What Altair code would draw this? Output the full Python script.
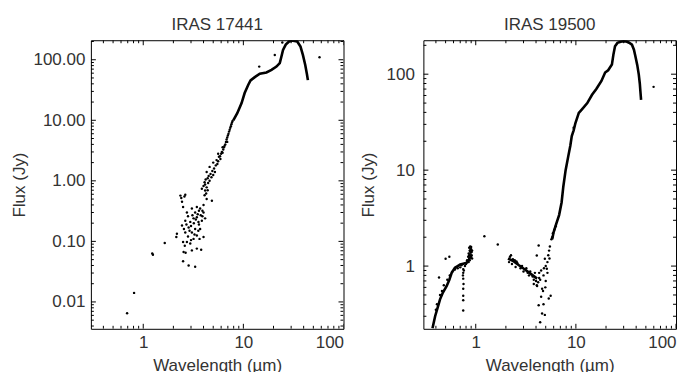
import altair as alt
import pandas as pd

# ---------------- IRAS 17441 ----------------
# dense, continuous part of the spectrum
l_curve_wl = [7.93, 8.69, 9.6, 10.3, 11.2, 11.8, 13.0, 14.6, 17.0, 19.1, 21.4, 23.1, 24.0,
              24.9, 26.5, 28.6, 31.3, 34.5, 37.2, 39.3, 41.5, 43.1, 44.1]
l_curve_fx = [10.0, 13.1, 19.2, 28.2, 38.6, 45.5, 51.6, 58.6, 61.6, 68, 77, 88, 113,
              145, 178, 200, 207, 200, 165, 120, 82, 58, 46]
# individual points
l_pts_wl = [0.69, 0.81, 1.23, 1.25, 1.64, 2.14, 2.17,
            2.35, 2.63, 2.44, 2.5, 2.44, 2.5, 2.53, 2.5, 2.84, 3.3, 3.43, 3.79, 4.0, 3.65,
            2.73, 3.06, 3.43, 3.7, 4.0, 4.15, 4.3, 4.85, 4.15, 3.85, 2.95, 3.18, 3.3, 3.06,
            2.84, 2.73, 2.95, 3.18, 3.56, 3.85, 3.7, 3.43, 2.63, 2.63, 3.43, 3.06,
            2.4, 2.58, 2.7, 2.8, 2.9, 3.0, 3.1, 3.2, 3.25, 3.35, 3.5, 3.6, 3.75, 3.9, 4.0,
            4.1, 4.25, 4.4, 2.6, 2.8, 3.55, 2.55, 2.65, 3.9, 3.0, 3.6, 3.3,
            4.0, 4.1, 4.15, 4.2, 4.3, 4.4, 4.45, 4.5, 4.6, 4.7, 4.8, 4.9, 5.0, 5.1, 5.2,
            5.3, 5.4, 5.5, 5.6, 5.7, 5.85, 5.9, 6.0, 6.1, 6.2, 6.3, 6.4, 6.5, 6.6, 6.7,
            6.8, 6.9, 7.0, 7.1, 7.2, 7.3, 7.4, 7.5, 7.6, 7.7, 7.8,
            4.3, 4.6, 5.0, 5.6, 6.2, 6.9,
            14.4, 20.6, 24.5, 57.6]
l_pts_fx = [0.0065, 0.0141, 0.063, 0.06, 0.094, 0.118, 0.134,
            0.57, 0.59, 0.45, 0.37, 0.183, 0.098, 0.067, 0.047, 0.04, 0.038, 0.076, 0.073, 0.118, 0.11,
            0.30, 0.35, 0.37, 0.35, 0.30, 0.24, 0.50, 0.47, 0.69, 0.74, 0.21, 0.24, 0.16, 0.14,
            0.17, 0.098, 0.092, 0.11, 0.21, 0.22, 0.16, 0.25, 0.22, 0.14, 0.125, 0.071,
            0.52, 0.55, 0.19, 0.26, 0.15, 0.18, 0.27, 0.2, 0.13, 0.23, 0.28, 0.19, 0.27, 0.32, 0.4,
            0.58, 0.62, 0.7, 0.085, 0.12, 0.15, 0.16, 0.065, 0.26, 0.105, 0.32, 0.3,
            0.82, 0.95, 0.87, 1.05, 0.78, 1.1, 0.92, 1.2, 1.0, 1.3, 1.15, 1.45, 1.25, 1.6, 1.4,
            1.8, 2.2, 1.9, 2.1, 2.5, 2.55, 2.3, 2.8, 3.0, 2.9, 3.3, 3.6, 3.8, 4.0, 4.4,
            4.8, 5.2, 5.6, 6.0, 6.5, 7.0, 7.5, 8.0, 8.6, 9.2, 9.7,
            1.4, 1.7, 2.0, 2.8, 3.6, 4.4,
            77, 120, 193, 110]

# ---------------- IRAS 19500 ----------------
r_opt_wl = [0.37, 0.393, 0.42, 0.44, 0.47, 0.513, 0.545, 0.575, 0.62, 0.66, 0.70, 0.75, 0.81, 0.85, 0.9]
r_opt_fx = [0.225, 0.30, 0.38, 0.45, 0.53, 0.62, 0.72, 0.85, 0.96, 1.0, 1.04, 1.06, 1.08, 1.15, 1.3]
r_band_wl = [2.1, 2.4, 2.7, 3.1, 3.6, 4.1]
r_band_fx = [1.2, 1.12, 1.02, 0.92, 0.82, 0.74]
r_curve_wl = [5.8, 6.0, 6.4, 6.8, 7.2, 7.5, 7.9, 8.4, 8.8, 9.1, 9.5, 9.9, 10.3, 10.7, 11.5, 13.0,
              14.5, 16.0, 18.0, 19.6, 21.0, 22.9, 23.7, 24.6, 26.0, 28.0, 29.9, 32.0, 34.0,
              36.3, 38.0, 39.3, 41.0, 42.5, 43.5, 44.1, 44.8]
r_curve_fx = [1.9, 2.26, 2.8, 3.4, 4.6, 6.8, 10.0, 14, 18, 22.6, 26, 31, 35, 39.5, 43, 50,
              61, 70, 85, 104, 110, 126, 160, 196, 212, 218, 221, 219, 213,
              203, 180, 154, 125, 99, 80, 66, 54]
r_pts_wl = [0.43, 0.50, 0.545, 1.22, 1.66,
            0.75, 0.75, 0.75, 0.755, 0.75, 0.75, 0.75, 0.75, 0.745, 0.76,
            0.86, 0.88, 0.9, 0.87, 0.89, 0.91, 0.85, 0.88, 0.9, 0.86, 0.92, 0.89, 0.87, 0.91,
            0.84, 0.9, 0.88, 0.86, 0.92, 0.83, 0.8, 0.78, 0.82, 0.85,
            0.4, 0.41, 0.44, 0.46, 0.48, 0.52, 0.55, 0.58, 0.62, 0.66, 0.7, 0.72,
            2.15, 2.2, 2.3, 2.35, 2.5, 2.55, 2.6, 2.8, 2.9, 3.0, 3.2, 3.3, 3.4, 3.5, 3.7,
            3.8, 3.9, 4.0, 4.2, 4.3, 4.1, 2.25, 2.45,
            4.25, 4.07, 4.9, 5.13, 4.75, 5.6, 5.36, 4.6, 4.25, 4.75, 4.6, 4.9, 4.4, 4.07, 3.8,
            5.0, 5.2, 5.3, 5.4, 5.5, 5.7, 5.8, 5.9, 6.1, 6.3, 5.45, 5.2, 4.8, 5.0, 4.5, 4.4,
            4.7, 4.95, 4.3, 4.5,
            9.5, 59.7]
r_pts_fx = [0.76, 1.19, 1.25, 2.05, 1.68,
            0.93, 0.85, 0.74, 0.65, 0.58, 0.49, 0.44, 0.345, 0.8, 0.9,
            1.55, 1.6, 1.58, 1.45, 1.5, 1.4, 1.35, 1.3, 1.25, 1.2, 1.45, 1.38, 1.15, 1.3,
            1.25, 1.5, 1.42, 1.3, 1.2, 1.1, 1.05, 1.0, 1.15, 1.1,
            0.35, 0.4, 0.5, 0.55, 0.63, 0.72, 0.8, 0.87, 0.92, 0.95, 0.97, 1.02,
            1.1, 1.25, 1.05, 1.18, 0.98, 1.12, 1.08, 0.95, 1.0, 0.88, 0.95, 0.85, 0.8, 0.88, 0.78,
            0.72, 0.85, 0.7, 0.68, 0.75, 0.62, 1.3, 1.15,
            1.64, 1.29, 1.19, 0.94, 0.8, 0.49, 0.46, 0.58, 0.39, 0.40, 0.32, 0.31, 0.26, 0.63, 0.65,
            1.0, 1.1, 1.3, 1.45, 1.6, 1.9, 2.0, 2.2, 2.4, 2.6, 1.2, 0.85, 0.95, 0.7, 0.9, 0.72,
            0.55, 0.6, 0.85, 0.48,
            27.6, 73.8]

# ---------------- axes ----------------
x_major = [1, 10, 100]
x_minor = [0.4, 0.5, 0.6, 0.7, 0.8, 0.9, 2, 3, 4, 5, 6, 7, 8, 9,
           20, 30, 40, 50, 60, 70, 80, 90]
l_y_major = [0.01, 0.1, 1, 10, 100]
l_y_minor = [0.004, 0.005, 0.006, 0.007, 0.008, 0.009,
             0.02, 0.03, 0.04, 0.05, 0.06, 0.07, 0.08, 0.09,
             0.2, 0.3, 0.4, 0.5, 0.6, 0.7, 0.8, 0.9,
             2, 3, 4, 5, 6, 7, 8, 9,
             20, 30, 40, 50, 60, 70, 80, 90, 200]
r_y_major = [1, 10, 100]
r_y_minor = [0.3, 0.4, 0.5, 0.6, 0.7, 0.8, 0.9,
             2, 3, 4, 5, 6, 7, 8, 9,
             20, 30, 40, 50, 60, 70, 80, 90, 200]

W, H = 253, 289
FONT = "Liberation Sans"
TXT = "#333333"
FS = 17
MAJ, MIN = 5, 3


def lines_df(segs):
    rows = []
    for i, (wl, fx) in enumerate(segs):
        for a, b in zip(wl, fx):
            rows.append({"wl": a, "fx": b, "seg": i})
    return pd.DataFrame(rows)


def panel(title, segs, pwl, pfx, ydom, ymaj, ymin, yfmt, ylabpad, ytitlepad):
    xs = alt.Scale(type="log", domain=[0.3, 100], nice=False)
    ys = alt.Scale(type="log", domain=ydom, nice=False)
    xax = alt.Axis(orient="bottom", values=x_major, format="~g", ticks=False,
                   domain=False, grid=False, title="Wavelength (µm)",
                   labelPadding=6, titlePadding=7)
    yax = alt.Axis(orient="left", values=ymaj, format=yfmt, ticks=False,
                   domain=False, grid=False, title="Flux (Jy)",
                   labelPadding=ylabpad, titlePadding=ytitlepad)
    X = alt.X("wl:Q", scale=xs, axis=xax)
    Y = alt.Y("fx:Q", scale=ys, axis=yax)
    pts_df = pd.DataFrame({"wl": pwl, "fx": pfx})

    base = alt.Chart(pts_df).mark_circle(size=6, color="black", opacity=1, clip=True).encode(x=X, y=Y)
    lines = alt.Chart(lines_df(segs)).mark_line(color="black", strokeWidth=2.6, clip=True).encode(
        x=X, y=Y, detail="seg:N")

    def xticks(vals, length):
        d = pd.DataFrame({"wl": vals})
        r = alt.Chart(d).mark_rule(color="black", strokeWidth=1, clip=True)
        bottom = r.encode(x=X, y=alt.value(H), y2=alt.value(H - length))
        top = r.encode(x=X, y=alt.value(0), y2=alt.value(length))
        return [bottom, top]

    def yticks(vals, length):
        d = pd.DataFrame({"fx": vals})
        r = alt.Chart(d).mark_rule(color="black", strokeWidth=1, clip=True)
        left_t = r.encode(y=Y, x=alt.value(0), x2=alt.value(length))
        right_t = r.encode(y=Y, x=alt.value(W), x2=alt.value(W - length))
        return [left_t, right_t]

    layer = alt.layer(
        base,
        *xticks(x_major, MAJ), *xticks(x_minor, MIN),
        *yticks(ymaj, MAJ), *yticks(ymin, MIN),
        lines,
    ).properties(
        width=W, height=H,
        title=alt.TitleParams(title, fontSize=FS, fontWeight="normal", font=FONT,
                              color=TXT, offset=6),
    )
    return layer


left = panel("IRAS 17441", [(l_curve_wl, l_curve_fx)], l_pts_wl, l_pts_fx,
             [0.0036, 210], l_y_major, l_y_minor, ".2f", 6, 4)
right = panel("IRAS 19500", [(r_opt_wl, r_opt_fx), (r_band_wl, r_band_fx), (r_curve_wl, r_curve_fx)],
              r_pts_wl, r_pts_fx, [0.222, 226], r_y_major, r_y_minor, ".0f", 9, 9)

chart = alt.hconcat(left, right, spacing=80, bounds="flush").properties(
    padding={"left": 2, "top": 7, "right": 5, "bottom": 5}
).configure_view(stroke="black", strokeWidth=1).configure_axis(
    labelFont=FONT, titleFont=FONT, labelFontSize=FS, titleFontSize=FS,
    labelColor=TXT, titleColor=TXT, titleFontWeight="normal"
)

chart.save("out.html", embed_options={"renderer": "svg", "actions": False})
